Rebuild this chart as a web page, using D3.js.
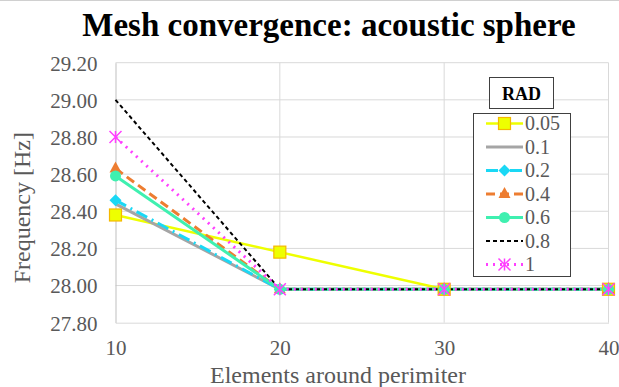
<!DOCTYPE html>
<html>
<head>
<meta charset="utf-8">
<script src="https://cdn.jsdelivr.net/npm/d3@7"></script>
<style>
  body { margin: 0; background: #fff; }
  svg, svg text { font-family: "Liberation Serif", "Times New Roman", serif !important; }
</style>
</head>
<body>
<div id="container"></div>
<script>
const elements = [10, 20, 30, 40];
const yTicks = [27.8, 28.0, 28.2, 28.4, 28.6, 28.8, 29.0, 29.2];
const radLabels = ["0.05", "0.1", "0.2", "0.4", "0.6", "0.8", "1"];
const rad005 = [28.38, 28.18, 27.98, 27.98];
const rad01 = [28.44, 27.98, 27.98, 27.98];
const rad02 = [28.46, 27.98, 27.98, 27.98];
const rad04 = [28.63, 27.98, 27.98, 27.98];
const rad06 = [28.59, 27.98, 27.98, 27.98];
const rad08 = [29.0, 27.98, 27.98, 27.98];
const rad1 = [28.8, 27.98, 27.98, 27.98];

function init() {
  const width = 619, height = 387;
  const margin = { left: 115.5, right: 10.5, top: 62.7, bottom: 64.3 };

  const series = [
    { name: radLabels[0], values: rad005, color: "#EEFF00", dash: null, width: 2.5, marker: "square" },
    { name: radLabels[1], values: rad01, color: "#A5A5A5", dash: null, width: 3, marker: null },
    { name: radLabels[2], values: rad02, color: "#1AD8F5", dash: "12,5,2,5", width: 3, marker: "diamond" },
    { name: radLabels[3], values: rad04, color: "#ED7D31", dash: "9,5", width: 3, marker: "triangle" },
    { name: radLabels[4], values: rad06, color: "#3FF0B0", dash: null, width: 3, marker: "circle" },
    { name: radLabels[5], values: rad08, color: "#000000", dash: "4,3", width: 2, marker: null },
    { name: radLabels[6], values: rad1, color: "#FF40FF", dash: "2,5", width: 3, marker: "star" }
  ];

  const svg = d3.select("#container").append("svg")
    .attr("width", width).attr("height", height);

  svg.append("line").attr("x1", 0).attr("x2", width).attr("y1", 0.5).attr("y2", 0.5)
    .attr("stroke", "#d0d0d0");

  const x = d3.scaleLinear().domain([10, 40]).range([margin.left, width - margin.right]);
  const y = d3.scaleLinear().domain([27.8, 29.2]).range([height - margin.bottom, margin.top]);

  // gridlines
  svg.append("g").selectAll("line").data(yTicks.slice(1)).join("line")
    .attr("x1", x(10)).attr("x2", x(40))
    .attr("y1", d => y(d)).attr("y2", d => y(d))
    .attr("stroke", "#d9d9d9").attr("stroke-width", 1);
  svg.append("g").selectAll("line").data(elements.slice(1)).join("line")
    .attr("x1", d => x(d)).attr("x2", d => x(d))
    .attr("y1", y(27.8)).attr("y2", y(29.2))
    .attr("stroke", "#d9d9d9").attr("stroke-width", 1);

  // axes
  const yAxis = d3.axisLeft(y).tickValues(yTicks).tickFormat(d3.format(".2f")).tickSize(0).tickPadding(18);
  const gy = svg.append("g").attr("transform", `translate(${x(10)},0)`).call(yAxis);
  gy.attr("font-family", null).attr("font-size", null);
  gy.select(".domain").attr("stroke", "#bfbfbf");
  gy.selectAll("text").attr("font-size", 21).attr("fill", "#595959").attr("dy", "0.35em");

  const xAxis = d3.axisBottom(x).tickValues(elements).tickFormat(d3.format("d")).tickSize(0).tickPadding(17);
  const gx = svg.append("g").attr("transform", `translate(0,${y(27.8)})`).call(xAxis);
  gx.attr("font-family", null).attr("font-size", null);
  gx.select(".domain").attr("stroke", "#d9d9d9");
  gx.selectAll("text").attr("font-size", 21).attr("fill", "#595959");

  // titles
  svg.append("text").attr("x", 329).attr("y", 36).attr("text-anchor", "middle")
    .attr("font-size", 33).attr("font-weight", "bold").attr("fill", "#000")
    .text("Mesh convergence: acoustic sphere");
  svg.append("text").attr("transform", `translate(30,${(y(27.8) + y(29.2)) / 2 + 15}) rotate(-90)`)
    .attr("text-anchor", "middle").attr("font-size", 24).attr("fill", "#595959")
    .text("Frequency [Hz]");
  svg.append("text").attr("x", 338).attr("y", 383).attr("text-anchor", "middle")
    .attr("font-size", 24).attr("fill", "#595959")
    .text("Elements around perimiter");

  const line = d3.line().x((d, i) => x(elements[i])).y(d => y(d));

  function drawMarker(g, type, color, cx, cy) {
    if (type === "square") {
      g.append("rect").attr("x", cx - 6).attr("y", cy - 6).attr("width", 12).attr("height", 12)
        .attr("fill", "#EEFF00").attr("stroke", "#F5B800").attr("stroke-width", 1.2);
    } else if (type === "diamond") {
      g.append("path").attr("d", `M${cx},${cy - 6}L${cx + 6},${cy}L${cx},${cy + 6}L${cx - 6},${cy}Z`)
        .attr("fill", color);
    } else if (type === "triangle") {
      g.append("path").attr("d", `M${cx},${cy - 7}L${cx + 6},${cy + 4}L${cx - 6},${cy + 4}Z`)
        .attr("fill", color);
    } else if (type === "circle") {
      g.append("circle").attr("cx", cx).attr("cy", cy).attr("r", 5.5).attr("fill", color);
    } else if (type === "star") {
      const r = 6;
      g.append("path")
        .attr("d", `M${cx - r},${cy - r}L${cx + r},${cy + r}M${cx - r},${cy + r}L${cx + r},${cy - r}M${cx},${cy - r}L${cx},${cy + r}`)
        .attr("stroke", color).attr("stroke-width", 1.5).attr("fill", "none");
    }
  }

  // series lines
  const plot = svg.append("g");
  series.forEach(s => {
    plot.append("path").datum(s.values).attr("d", line)
      .attr("fill", "none").attr("stroke", s.color).attr("stroke-width", s.width)
      .attr("stroke-dasharray", s.dash);
  });
  series.forEach(s => {
    if (!s.marker) return;
    const g = plot.append("g");
    s.values.forEach((v, i) => drawMarker(g, s.marker, s.color, x(elements[i]), y(v)));
  });

  // legend
  const lg = svg.append("g");
  lg.append("rect").attr("x", 489.5).attr("y", 77.5).attr("width", 64).attr("height", 31)
    .attr("fill", "#fff").attr("stroke", "#404040").attr("stroke-width", 1);
  lg.append("text").attr("x", 521.5).attr("y", 100).attr("text-anchor", "middle")
    .attr("font-size", 18).attr("font-weight", "bold").text("RAD");
  lg.append("rect").attr("x", 473.5).attr("y", 113.5).attr("width", 97).attr("height", 163)
    .attr("fill", "#fff").attr("stroke", "#404040").attr("stroke-width", 1);
  series.forEach((s, i) => {
    const cy = 123.5 + i * 23.5;
    const g = lg.append("g");
    g.append("line").attr("x1", 486).attr("x2", 523).attr("y1", cy).attr("y2", cy)
      .attr("stroke", s.color).attr("stroke-width", s.width).attr("stroke-dasharray", s.dash);
    drawMarker(g, s.marker, s.color, 504.5, cy);
    g.append("text").attr("x", 525).attr("y", cy + 6.5).attr("font-size", 20).attr("fill", "#595959")
      .text(s.name);
  });
}

document.addEventListener("DOMContentLoaded", init);
</script>
</body>
</html>
